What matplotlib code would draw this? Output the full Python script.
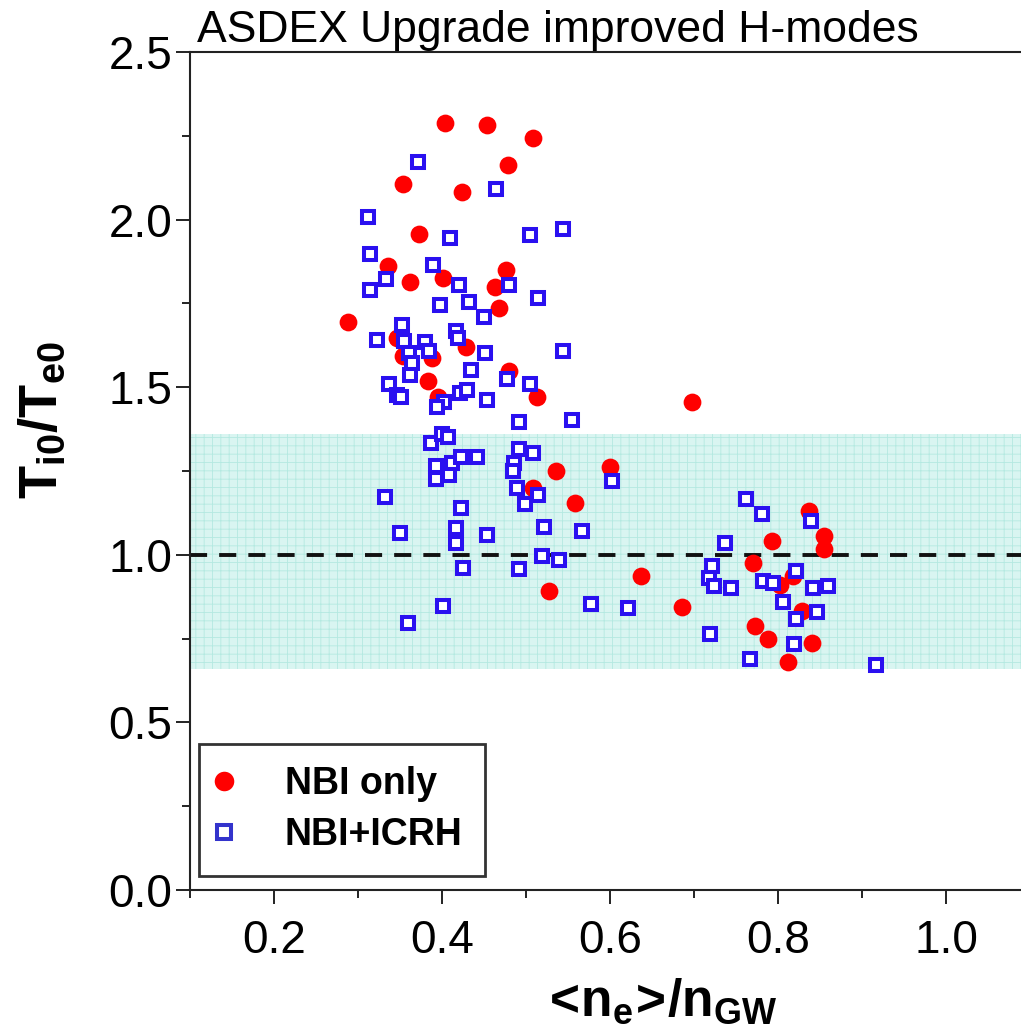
import matplotlib
matplotlib.use("Agg")
import matplotlib.pyplot as plt
from matplotlib.ticker import MultipleLocator

plt.rcParams["font.family"] = ["Liberation Sans", "DejaVu Sans"]
plt.rcParams["mathtext.fontset"] = "custom"
plt.rcParams["mathtext.rm"] = "Liberation Sans"
plt.rcParams["mathtext.bf"] = "Liberation Sans:bold"
plt.rcParams["hatch.linewidth"] = 0.6

# NBI only (red circles)
nbi_x = [0.403, 0.453, 0.508, 0.478, 0.353, 0.423, 0.372, 0.335, 0.362, 0.401,
         0.476, 0.463, 0.467, 0.288, 0.346, 0.428, 0.353, 0.388, 0.479, 0.383,
         0.513, 0.395, 0.535, 0.508, 0.558, 0.600, 0.527, 0.697, 0.637, 0.685,
         0.792, 0.836, 0.854, 0.854, 0.770, 0.817, 0.802, 0.828, 0.772, 0.788,
         0.840, 0.811]
nbi_y = [2.288, 2.282, 2.243, 2.163, 2.106, 2.082, 1.957, 1.862, 1.814, 1.826,
         1.850, 1.799, 1.736, 1.695, 1.647, 1.620, 1.593, 1.587, 1.548, 1.518,
         1.471, 1.471, 1.250, 1.199, 1.155, 1.262, 0.892, 1.456, 0.937, 0.844,
         1.041, 1.131, 1.056, 1.017, 0.975, 0.937, 0.910, 0.832, 0.788, 0.749,
         0.737, 0.680]

# NBI+ICRH (blue open squares)
icrh_x = [0.371, 0.464, 0.311, 0.409, 0.504, 0.544, 0.314, 0.389, 0.333, 0.314,
          0.420, 0.479, 0.397, 0.432, 0.514, 0.450, 0.352, 0.322, 0.416, 0.419,
          0.354, 0.379, 0.360, 0.384, 0.451, 0.544, 0.364, 0.434, 0.362, 0.477,
          0.504, 0.337, 0.346, 0.351, 0.421, 0.429, 0.453, 0.402, 0.394, 0.387,
          0.400, 0.407, 0.392, 0.392, 0.411, 0.408, 0.422, 0.441, 0.332, 0.349,
          0.401, 0.359, 0.422, 0.416, 0.416, 0.425, 0.453, 0.491, 0.491, 0.508,
          0.485, 0.484, 0.489, 0.514, 0.498, 0.521, 0.519, 0.539, 0.491, 0.554,
          0.602, 0.566, 0.577, 0.621, 0.761, 0.780, 0.839, 0.736, 0.721, 0.717,
          0.723, 0.743, 0.782, 0.793, 0.821, 0.841, 0.859, 0.805, 0.821, 0.846,
          0.719, 0.819, 0.766, 0.916]
icrh_y = [2.172, 2.091, 2.008, 1.945, 1.954, 1.972, 1.897, 1.865, 1.823, 1.790,
          1.805, 1.805, 1.745, 1.754, 1.766, 1.709, 1.686, 1.641, 1.668, 1.647,
          1.638, 1.635, 1.602, 1.608, 1.602, 1.608, 1.572, 1.551, 1.536, 1.524,
          1.510, 1.510, 1.477, 1.471, 1.483, 1.492, 1.462, 1.456, 1.441, 1.334,
          1.360, 1.351, 1.265, 1.226, 1.274, 1.238, 1.292, 1.292, 1.172, 1.065,
          0.847, 0.797, 1.140, 1.080, 1.035, 0.961, 1.059, 1.396, 1.316, 1.304,
          1.274, 1.250, 1.199, 1.178, 1.152, 1.083, 0.996, 0.984, 0.958, 1.402,
          1.220, 1.071, 0.853, 0.841, 1.166, 1.122, 1.101, 1.035, 0.967, 0.931,
          0.907, 0.901, 0.922, 0.916, 0.952, 0.901, 0.907, 0.859, 0.808, 0.829,
          0.764, 0.734, 0.689, 0.671]

band_lo, band_hi = 0.66, 1.36
ref_level = 1.0

fig = plt.figure(figsize=(10.21, 10.34), dpi=100)
ax = fig.add_axes([0.1865, 0.1393, 0.8135, 0.8104])

ax.axhspan(band_lo, band_hi, facecolor="#d9f5f1", edgecolor="#b4e9e1",
           hatch="++", linewidth=0, zorder=1)
ax.axhline(ref_level, color="#111111", lw=2.8, dashes=(4.4, 3.1), zorder=2)

ax.plot(nbi_x, nbi_y, ls="none", marker="o", ms=12.8, mew=0,
        color="#ff0000", label="NBI only", zorder=3)
ax.plot(icrh_x, icrh_y, ls="none", marker="s", ms=8.6, mew=2.9,
        mec="#2a10f0", mfc="white", label="NBI+ICRH", zorder=4)

ax.set_xlim(0.1, 1.0888)
ax.set_ylim(0, 2.5)
ax.xaxis.set_major_locator(MultipleLocator(0.2))
ax.xaxis.set_minor_locator(MultipleLocator(0.1))
ax.yaxis.set_major_locator(MultipleLocator(0.5))
ax.yaxis.set_minor_locator(MultipleLocator(0.25))
ax.xaxis.set_major_formatter(lambda v, p: f"{v:.1f}")
ax.yaxis.set_major_formatter(lambda v, p: f"{v:.1f}")

ax.tick_params(which="both", direction="out", width=1.4, color="#222222")
ax.tick_params(which="major", length=10, labelsize=33)
ax.tick_params(which="minor", length=6)
ax.tick_params(axis="x", which="major", pad=11)
ax.tick_params(axis="y", which="major", pad=3)

ax.spines["right"].set_visible(False)
for side in ("left", "top", "bottom"):
    ax.spines[side].set_linewidth(1.5)
    ax.spines[side].set_color("#222222")

ax.text(0.008, 1.012, "ASDEX Upgrade improved H-modes", transform=ax.transAxes,
        ha="left", va="baseline", fontsize=32)

fig.text(57 / 1021, 1 - 420 / 1034, r"$\mathbf{T_{i0}/T_{e0}}$",
         rotation=90, rotation_mode="anchor", ha="center", va="baseline",
         fontsize=39)
fig.text(658 / 1021, 1 - 1016 / 1034,
         r"$\mathbf{<\!n_e\!>\!/n_{GW}}$",
         ha="center", va="baseline", fontsize=37)

leg = ax.legend(loc="lower left", bbox_to_anchor=(0.0104, 0.0167),
                borderaxespad=0, frameon=True, fancybox=False,
                prop={"weight": "bold", "size": 27}, handlelength=0.15,
                handletextpad=1.54, borderpad=0.6, labelspacing=0.4,
                markerscale=1.1)
leg.get_frame().set_edgecolor("black")
leg.get_frame().set_linewidth(2.0)
leg.legend_handles[1].set_markeredgecolor("#3333cc")

fig.savefig("out.png", dpi=100)
